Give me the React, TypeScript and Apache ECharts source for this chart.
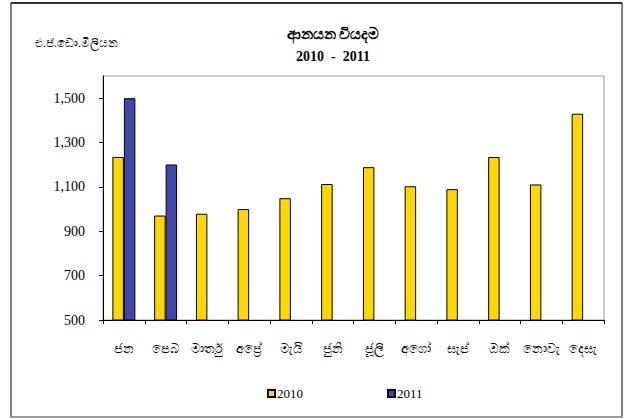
import React, { useEffect, useRef } from "react";
import * as echarts from "echarts";

const months = ["ජන", "පෙබ", "මාර්තු", "අප්‍රේ", "මැයි", "ජුනි", "ජූලි", "අගෝ", "සැප්", "ඔක්", "නොවැ", "දෙසැ"];
const values2010 = [1235, 971, 979, 1000, 1049, 1113, 1189, 1103, 1090, 1235, 1111, 1430];
const values2011: (number | null)[] = [1500, 1201, null, null, null, null, null, null, null, null, null, null];
const yTicks = [500, 700, 900, 1100, 1300, 1500];
const titleText = "ආනයන වියදම";
const subtitleText = "2010  -  2011";
const unitText = "එ.ජ.ඩො.මිලියන";

const SERIF = "'Liberation Serif', 'Times New Roman', serif";

export default function App() {
  const ref = useRef<HTMLDivElement>(null);
  useEffect(() => {
    const chart = echarts.init(ref.current!, null, { renderer: "svg" });
    chart.setOption({
      animation: false,
      backgroundColor: "#ffffff",
      textStyle: { fontFamily: SERIF },
      title: [
        {
          text: titleText,
          left: 328,
          top: 21,
          textAlign: "center",
          textStyle: { fontFamily: SERIF, fontSize: 15, fontWeight: "bold", color: "#000" },
        },
        {
          text: subtitleText,
          left: 328,
          top: 44,
          textAlign: "center",
          textStyle: { fontFamily: SERIF, fontSize: 14, fontWeight: "bold", color: "#000" },
        },
      ],
      legend: {
        left: 267,
        top: 387,
        padding: 0,
        itemWidth: 7,
        itemHeight: 7,
        itemGap: 84,
        icon: "rect",
        textStyle: { fontFamily: SERIF, fontSize: 13, color: "#000", padding: [0, 0, 0, -3] },
        data: ["2010", "2011"],
      },
      graphic: [
        {
          type: "rect",
          shape: { x: 11, y: 3, width: 611, height: 414 },
          style: { fill: "none", stroke: "#000", lineWidth: 1 },
          silent: true,
          z: -1,
        },
        {
          type: "line",
          shape: { x1: 11, y1: 3, x2: 622, y2: 3 },
          style: { stroke: "#333", lineWidth: 2 },
          silent: true,
        },
        {
          type: "line",
          shape: { x1: 11, y1: 417, x2: 622, y2: 417 },
          style: { stroke: "#bbb", lineWidth: 1 },
          silent: true,
        },
        {
          type: "text",
          left: 35,
          top: 37,
          style: { text: unitText, font: "12px " + SERIF, fill: "#000" },
        },
      ],
      grid: {
        left: 103,
        top: 76,
        width: 501,
        height: 244,
        show: true,
        borderColor: "#999",
        borderWidth: 1,
        backgroundColor: "transparent",
      },
      xAxis: {
        type: "category",
        data: months,
        boundaryGap: true,
        axisLine: { lineStyle: { color: "#000", width: 1 } },
        axisTick: { show: true, alignWithLabel: false, length: 4, lineStyle: { color: "#000" } },
        axisLabel: { fontFamily: SERIF, fontSize: 13, color: "#000", margin: 22, interval: 0 },
        splitLine: { show: false },
      },
      yAxis: {
        type: "value",
        min: 500,
        max: 1600,
        interval: 100,
        axisLine: { show: true, lineStyle: { color: "#000", width: 1 } },
        axisTick: { show: true, length: 4, lineStyle: { color: "#000" }, customValues: yTicks },
        axisLabel: {
          fontFamily: SERIF,
          fontSize: 14,
          color: "#000",
          margin: 18,
          customValues: yTicks,
          formatter: (v: number) => v.toLocaleString("en-US"),
        },
        splitLine: { show: false },
      },
      series: [
        {
          name: "2010",
          type: "bar",
          data: values2010,
          barGap: "0%",
          barCategoryGap: "45%",
          itemStyle: { color: "#FFD700", borderColor: "#000", borderWidth: 1 },
        },
        {
          name: "2011",
          type: "bar",
          data: values2011,
          barGap: "0%",
          barCategoryGap: "45%",
          itemStyle: { color: "#4146A8", borderColor: "#000", borderWidth: 1 },
        },
      ],
    });
    return () => chart.dispose();
  }, []);
  return (
    <div
      ref={ref}
      style={{ position: "fixed", left: 0, top: 0, width: 632, height: 418 }}
    />
  );
}
